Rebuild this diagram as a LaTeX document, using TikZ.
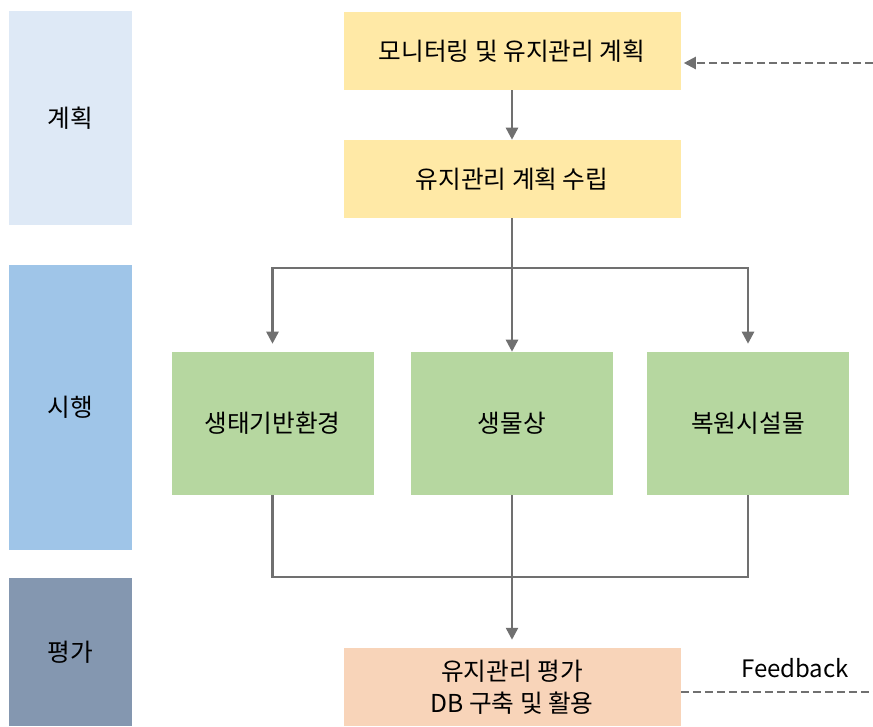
\documentclass[tikz,border=0pt]{standalone}
\usepackage{fontspec}
\setmainfont{Noto Sans CJK KR}
\usetikzlibrary{positioning,calc,arrows.meta}

\definecolor{planblue}{HTML}{DEE9F6}
\definecolor{doblue}{HTML}{9FC5E8}
\definecolor{evalblue}{HTML}{8497B0}
\definecolor{planyellow}{HTML}{FFE9A6}
\definecolor{stepgreen}{HTML}{B6D7A0}
\definecolor{evalpeach}{HTML}{F8D4B9}
\definecolor{linegray}{HTML}{707070}

\begin{document}
\begin{tikzpicture}[x=0.75pt,y=-0.75pt,
	bar/.style={fill, minimum width=123*0.75pt, inner sep=0pt, font=\fontsize{18.5}{22}\selectfont},
	box/.style={minimum width=337*0.75pt, minimum height=78*0.75pt, inner sep=0pt, align=center, font=\fontsize{18.5}{24}\selectfont},
	gbox/.style={fill=stepgreen, minimum width=202*0.75pt, minimum height=143*0.75pt, inner sep=0pt, font=\fontsize{18.5}{22}\selectfont},
	line/.style={draw=linegray, line width=1.9pt},
	arr/.style={line, -{Triangle[length=9pt,width=9pt]}},
	fb/.style={draw=linegray, line width=1.6pt, dash pattern=on 6pt off 3pt}]
	\useasboundingbox (0,0) rectangle (873,726);
	
	% phases
	\node[bar, fill=planblue, minimum height=214*0.75pt] (plan) at (70.5,118) {계획};
	\node[bar, fill=doblue, minimum height=285*0.75pt] (do) at (70.5,407.5) {시행};
	\node[bar, fill=evalblue, minimum height=148*0.75pt] (eval) at (70.5,652) {평가};
	
	% boxes
	\node[box, fill=planyellow] (mon) at (512,51) {모니터링 및 유지관리 계획};
	\node[box, fill=planyellow] (est) at (512,179) {유지관리 계획 수립};
	\node[gbox] (eco) at (272.5,423.5) {생태기반환경};
	\node[gbox] (bio) at (512,423.5) {생물상};
	\node[gbox] (fac) at (748,423.5) {복원시설물};
	\node[box, fill=evalpeach] (res) at (512,687) {유지관리 평가\\DB 구축 및 활용};
	\node (fbtext) at (795,668) {\fontsize{18}{22}\selectfont Feedback};
	
	\coordinate (fork) at (512,268);
	\coordinate (join) at (512,577);
	\coordinate (fbin) at (873,63);
	\coordinate (fbout) at (873,692);
	
	% connectors
	\draw[arr] (mon) -- (est);
	\draw[arr] (est.south) -- (bio.north);
	\draw[arr, shorten >=8*0.75pt] (fork) -| (eco.north);
	\draw[arr, shorten >=8*0.75pt] (fork) -| (fac.north);
	\draw[line] (eco.south) |- (join) -| (fac.south);
	\draw[arr, shorten >=8*0.75pt] (bio.south) -- (res.north);
	
	% feedback
	\draw[fb, -{Triangle[length=9pt,width=9pt]}] (fbin) -- ($(mon.east |- fbin)+(3,0)$);
	\draw[fb] (res.east |- fbout) -- (fbout);
\end{tikzpicture}
\end{document}
